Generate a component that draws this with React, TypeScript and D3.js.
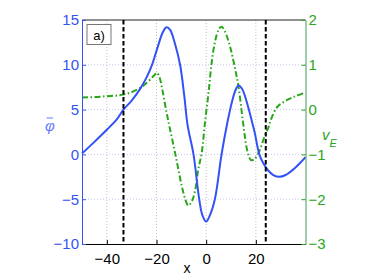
import * as d3 from 'd3'
import { useEffect, useRef } from 'react'

// phi-bar (left axis)
const phiX = [-50, -45, -40, -36, -33.3, -30, -26.4, -24, -21.8, -19.5, -17.5, -16, -14.5, -12.5, -10.5, -8.8, -7.5, -5.1, -2.8, -1.5, 0, 1.5, 3.5, 6.2, 8.5, 10.5, 12, 13, 14.5, 16.9, 18.5, 19.5, 21.4, 23, 25, 27, 29.5, 32, 35, 38, 40]
const phiY = [0.1, 1.4, 2.75, 3.9, 5.0, 6.0, 7.4, 8.6, 10, 12, 13.6, 14.2, 13.9, 12.3, 10, 6.5, 3.3, 0, -5, -6.8, -7.5, -6.8, -5, 0, 3.5, 6, 7.3, 7.7, 7.3, 5.3, 3.6, 2.5, 0, -1.0, -1.8, -2.3, -2.5, -2.3, -1.7, -0.9, -0.3]

// v_E (right axis)
const vX = [-50, -45, -40, -35, -31, -27, -23.5, -21, -19.9, -18.8, -17.5, -16, -14.7, -12.5, -9.8, -8.3, -7.2, -5.8, -4.5, -3.2, -1.8, -0.5, 1, 2.2, 3.5, 5, 6.2, 7.5, 9.6, 11.5, 13, 15, 16.5, 18.1, 19.5, 21.4, 23.5, 25, 26.1, 28.8, 32.8, 36, 40]
const vY = [0.27, 0.28, 0.3, 0.32, 0.37, 0.47, 0.62, 0.76, 0.82, 0.72, 0.4, -0.05, -0.4, -0.97, -1.71, -2.02, -2.14, -2.05, -1.82, -1.34, -0.97, -0.3, 0.4, 1.04, 1.5, 1.78, 1.85, 1.75, 1.41, 0.95, 0.52, -0.35, -0.9, -1.13, -1.1, -0.93, -0.6, -0.41, -0.22, 0.07, 0.22, 0.3, 0.38]

const xTicks = [-40, -20, 0, 20]
const leftTicks = [-10, -5, 0, 5, 10, 15]
const rightTicks = [-3, -2, -1, 0, 1, 2]
const markers = [-33.3, 24]

const BLUE = '#3352f5'
const GREEN = '#2aa61a'
const FONT = '"Liberation Sans", Arial, sans-serif'

export default function App() {
  const ref = useRef<SVGSVGElement>(null)

  useEffect(() => {
    if (!ref.current) return
    const svg = d3.select(ref.current)
    svg.selectAll('*').remove()

    const left = 82
    const right = 305.5
    const top = 20
    const bottom = 244

    const x = d3.scaleLinear().domain([-50, 40]).range([left, right])
    const yL = d3.scaleLinear().domain([-10, 15]).range([bottom, top])
    const yR = d3.scaleLinear().domain([-3, 2]).range([bottom, top])

    // grid
    svg
      .append('g')
      .selectAll('line')
      .data(xTicks)
      .enter()
      .append('line')
      .attr('x1', d => x(d))
      .attr('x2', d => x(d))
      .attr('y1', top)
      .attr('y2', bottom)
      .attr('stroke', '#c4c4c4')
      .attr('stroke-width', 1)
      .attr('stroke-dasharray', '1,2')

    svg
      .append('g')
      .selectAll('line')
      .data(leftTicks.slice(1, -1))
      .enter()
      .append('line')
      .attr('x1', left)
      .attr('x2', right)
      .attr('y1', d => yL(d))
      .attr('y2', d => yL(d))
      .attr('stroke', '#c8c8f0')
      .attr('stroke-width', 1)
      .attr('stroke-dasharray', '1,2')

    // top box line
    svg
      .append('line')
      .attr('x1', left)
      .attr('x2', right)
      .attr('y1', top)
      .attr('y2', top)
      .attr('stroke', '#222')

    // curves
    const lineL = d3
      .line<number>()
      .x((_, i) => x(phiX[i]))
      .y(d => yL(d))
      .curve(d3.curveCatmullRom.alpha(0.5))

    const lineR = d3
      .line<number>()
      .x((_, i) => x(vX[i]))
      .y(d => yR(d))
      .curve(d3.curveCatmullRom.alpha(0.5))

    svg
      .append('path')
      .datum(vY)
      .attr('fill', 'none')
      .attr('stroke', GREEN)
      .attr('stroke-width', 2)
      .attr('stroke-dasharray', '6,2.5,1.5,2.5')
      .attr('d', lineR)

    svg
      .append('path')
      .datum(phiY)
      .attr('fill', 'none')
      .attr('stroke', BLUE)
      .attr('stroke-width', 2)
      .attr('d', lineL)

    // dashed markers
    svg
      .append('g')
      .selectAll('line')
      .data(markers)
      .enter()
      .append('line')
      .attr('x1', d => x(d))
      .attr('x2', d => x(d))
      .attr('y1', top)
      .attr('y2', bottom)
      .attr('stroke', '#000')
      .attr('stroke-width', 2)
      .attr('stroke-dasharray', '4.5,2.5')

    // axes
    const xAxis = svg
      .append('g')
      .attr('transform', `translate(0,${bottom})`)
      .call(
        d3
          .axisBottom(x)
          .tickValues(xTicks)
          .tickSizeInner(-4)
          .tickSizeOuter(0)
          .tickPadding(9.5)
          .tickFormat(d => d3.format('d')(d as number).replace('-', '\u2212'))
      )
    xAxis.select('.domain').attr('stroke', '#000')
    xAxis.selectAll('.tick line').attr('stroke', '#000')
    xAxis
      .selectAll('text')
      .attr('fill', '#000')
      .style('font-size', '15px')
      .style('font-family', FONT)

    const yAxisL = svg
      .append('g')
      .attr('transform', `translate(${left},0)`)
      .call(
        d3
          .axisLeft(yL)
          .tickValues(leftTicks)
          .tickSizeInner(-4)
          .tickSizeOuter(0)
          .tickPadding(3)
          .tickFormat(d => d3.format('d')(d as number).replace('-', '\u2212'))
      )
    yAxisL.select('.domain').attr('stroke', BLUE)
    yAxisL.selectAll('.tick line').attr('stroke', BLUE)
    yAxisL
      .selectAll('text')
      .attr('fill', BLUE)
      .style('font-size', '15px')
      .style('font-family', FONT)

    const yAxisR = svg
      .append('g')
      .attr('transform', `translate(${right},0)`)
      .call(
        d3
          .axisRight(yR)
          .tickValues(rightTicks)
          .tickSizeInner(-4)
          .tickSizeOuter(0)
          .tickPadding(3)
          .tickFormat(d => d3.format('d')(d as number).replace('-', '\u2212'))
      )
    yAxisR.select('.domain').attr('stroke', '#3f9a5c')
    yAxisR.selectAll('.tick line').attr('stroke', GREEN)
    yAxisR
      .selectAll('text')
      .attr('fill', GREEN)
      .style('font-size', '15px')
      .style('font-family', FONT)

    // axis labels
    svg
      .append('text')
      .attr('x', 187)
      .attr('y', 273)
      .attr('text-anchor', 'middle')
      .style('font-size', '14px')
      .style('font-family', FONT)
      .text('x')

    svg
      .append('text')
      .attr('x', 50)
      .attr('y', 131)
      .attr('text-anchor', 'middle')
      .attr('fill', '#6478ff')
      .style('font-size', '15px')
      .style('font-style', 'italic')
      .style('font-family', FONT)
      .text('\u03c6')
    svg
      .append('line')
      .attr('x1', 46.5)
      .attr('x2', 53)
      .attr('y1', 118)
      .attr('y2', 118)
      .attr('stroke', '#6478ff')
      .attr('stroke-width', 1)

    const vLabel = svg
      .append('text')
      .attr('x', 322)
      .attr('y', 140)
      .attr('fill', GREEN)
      .style('font-size', '15px')
      .style('font-style', 'italic')
      .style('font-family', FONT)
    vLabel.append('tspan').text('v')
    vLabel
      .append('tspan')
      .attr('dy', 7)
      .attr('dx', 0)
      .style('font-size', '11px')
      .text('E')

    // panel tag
    svg
      .append('rect')
      .attr('x', 87)
      .attr('y', 24.5)
      .attr('width', 24)
      .attr('height', 20)
      .attr('fill', '#fff')
      .attr('stroke', '#777')
      .attr('stroke-width', 1)
    svg
      .append('text')
      .attr('x', 99)
      .attr('y', 39.5)
      .attr('text-anchor', 'middle')
      .style('font-size', '13px')
      .style('font-family', FONT)
      .text('a)')
  }, [])

  return (
    <svg
      ref={ref}
      width={374}
      height={275}
      style={{ position: 'absolute', left: 0, top: 0, background: '#fff' }}
    />
  )
}
